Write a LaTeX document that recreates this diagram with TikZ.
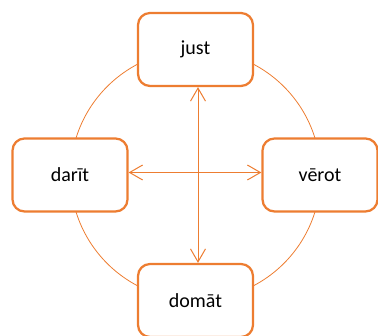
\documentclass[tikz,border=0pt]{standalone}
\usepackage{fontspec}
\setmainfont{Carlito}
\usetikzlibrary{arrows.meta,positioning}
\definecolor{accent}{HTML}{ED7D31}
\tikzset{
  stage/.style={draw=accent, line width=2.25pt, fill=white, rounded corners=12pt,
    minimum width=115pt, minimum height=73pt, font=\fontsize{20}{24}\selectfont},
  link/.style={draw=accent, line width=1pt, {Straight Barb[length=13pt,width=15pt]}-{Straight Barb[length=13pt,width=15pt]}}
}
\begin{document}
\begin{tikzpicture}[x=1pt, y=-1pt]
    \useasboundingbox (0,0) rectangle (378,336);
    \clip (0,0) rectangle (378,336);
    % cycle behind the boxes
    \coordinate (mid) at (195.5,175);
    \draw[accent, line width=0.8pt] (mid) circle[radius=125pt];

    % the four stages
    \node[stage] (just) at (195.5,49.5) {just};
    \node[stage] (darit) at (70,175) {darīt};
    \node[stage] (verot) at (320,175) {vērot};
    \node[stage] (domat) at (195.5,300.5) {domāt};

    % cross arrows
    \draw[link] ([xshift=2.5pt]just.south) -- ([xshift=2.5pt]domat.north);
    \draw[link] ([yshift=2.5pt]darit.east) -- ([yshift=2.5pt]verot.west);
\end{tikzpicture}
\end{document}
